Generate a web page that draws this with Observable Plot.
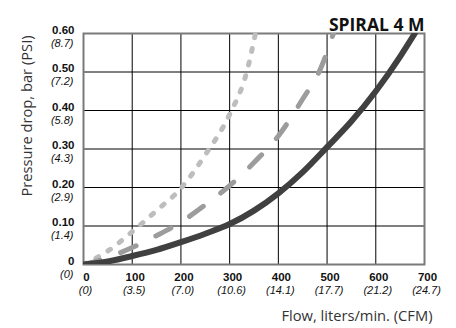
<!DOCTYPE html>
<html><head><meta charset="utf-8">
<script src="https://cdn.jsdelivr.net/npm/d3@7"></script>
<script src="https://cdn.jsdelivr.net/npm/@observablehq/plot@0.6"></script>
<style>html,body{margin:0;padding:0;background:#fff}</style>
</head><body><div id="chart"></div>
<script>
const title = "SPIRAL 4 M";
const xLabel = "Flow, liters/min. (CFM)";
const yLabel = "Pressure drop, bar (PSI)";

const xTicks = [0, 100, 200, 300, 400, 500, 600, 700];
const xTickLpm = ["0", "100", "200", "300", "400", "500", "600", "700"];
const xTickCfm = ["(0)", "(3.5)", "(7.0)", "(10.6)", "(14.1)", "(17.7)", "(21.2)", "(24.7)"];

const yTicks = [0, 0.1, 0.2, 0.3, 0.4, 0.5, 0.6];
const yTickBar = ["0", "0.10", "0.20", "0.30", "0.40", "0.50", "0.60"];
const yTickPsi = ["(0)", "(1.4)", "(2.9)", "(4.3)", "(5.8)", "(7.2)", "(8.7)"];

// dark solid curve
const solidFlow = [0, 50, 100, 150, 200, 250, 300, 350, 400, 450, 500, 550, 600, 650, 680];
const solidDrop = [0, 0.008, 0.022, 0.038, 0.058, 0.08, 0.105, 0.14, 0.185, 0.24, 0.305, 0.372, 0.45, 0.54, 0.6];
// medium grey dashed curve
const dashFlow = [0, 50, 100, 150, 200, 250, 300, 350, 400, 450, 487, 513];
const dashDrop = [0, 0.018, 0.044, 0.075, 0.11, 0.155, 0.205, 0.265, 0.334, 0.43, 0.51, 0.6];
// light grey dotted curve
const dotFlow = [0, 50, 100, 150, 200, 250, 300, 335, 353];
const dotDrop = [0, 0.035, 0.085, 0.14, 0.198, 0.285, 0.39, 0.5, 0.6];

const toRows = (xs, ys) => xs.map((x, i) => ({flow: x, drop: ys[i]}));
const solid = toRows(solidFlow, solidDrop);
const dashed = toRows(dashFlow, dashDrop);
const dotted = toRows(dotFlow, dotDrop);

const tickFont = "Liberation Sans, Arial, sans-serif";
const labelFont = "Open Sans, sans-serif";

const chart = Plot.plot({
  width: 456,
  height: 328,
  marginLeft: 83,
  marginRight: 32,
  marginTop: 33,
  marginBottom: 64,
  x: {domain: [0, 700], axis: null},
  y: {domain: [0, 0.6], axis: null},
  style: {background: "#fff", overflow: "visible"},
  marks: [
    Plot.ruleX(xTicks, {x: d => d, stroke: "#000", strokeWidth: 1}),
    Plot.ruleY(yTicks, {y: d => d, stroke: "#000", strokeWidth: 1}),
    Plot.frame({stroke: "#7a7a7a", strokeWidth: 2}),
    Plot.line(dotted, {x: "flow", y: "drop", curve: "monotone-x", stroke: "#bdbdbd", strokeWidth: 5,
      strokeDasharray: "3,11", strokeLinecap: "round", clip: true}),
    Plot.line(dashed, {x: "flow", y: "drop", curve: "monotone-x", stroke: "#9c9c9c", strokeWidth: 5,
      strokeDasharray: "17,22", strokeLinecap: "round", clip: true}),
    Plot.line(solid, {x: "flow", y: "drop", curve: "monotone-x", stroke: "#404040", strokeWidth: 6,
      strokeLinecap: "round", clip: true}),
    // x tick labels
    Plot.text(xTicks, {x: d => d, y: () => 0, text: (d, i) => xTickLpm[i], dy: 12.5, dx: 3,
      fontFamily: tickFont, fontWeight: "bold", fontSize: 11.5, fill: "#111"}),
    Plot.text(xTicks, {x: d => d, y: () => 0, text: (d, i) => xTickCfm[i], dy: 25.5, dx: 2,
      fontFamily: tickFont, fontStyle: "italic", fontSize: 11, fill: "#111"}),
    // y tick labels
    Plot.text(yTicks, {x: () => 0, y: d => d, text: (d, i) => yTickBar[i], dx: -9, dy: -3.5,
      textAnchor: "end", fontFamily: tickFont, fontWeight: "bold", fontSize: 11.5, fill: "#111"}),
    Plot.text(yTicks, {x: () => 0, y: d => d, text: (d, i) => yTickPsi[i], dx: -10, dy: 9.5,
      textAnchor: "end", fontFamily: tickFont, fontStyle: "italic", fontSize: 11, fill: "#111"}),
    // title and axis labels
    Plot.text([title], {frameAnchor: "top-right", textAnchor: "end", dy: -14.5, dx: 0,
      fontFamily: labelFont, fontWeight: "bold", fontSize: 17.5, fill: "#111"}),
    Plot.text([xLabel], {frameAnchor: "bottom-right", textAnchor: "end", dy: 56, dx: 8,
      fontFamily: labelFont, fontSize: 14.7, fill: "#333"}),
    Plot.text([yLabel], {frameAnchor: "left", textAnchor: "middle", rotate: -90, dx: -56, dy: -33,
      fontFamily: labelFont, fontSize: 14.7, fill: "#333"})
  ]
});
document.getElementById("chart").appendChild(chart);
</script>
</body></html>
